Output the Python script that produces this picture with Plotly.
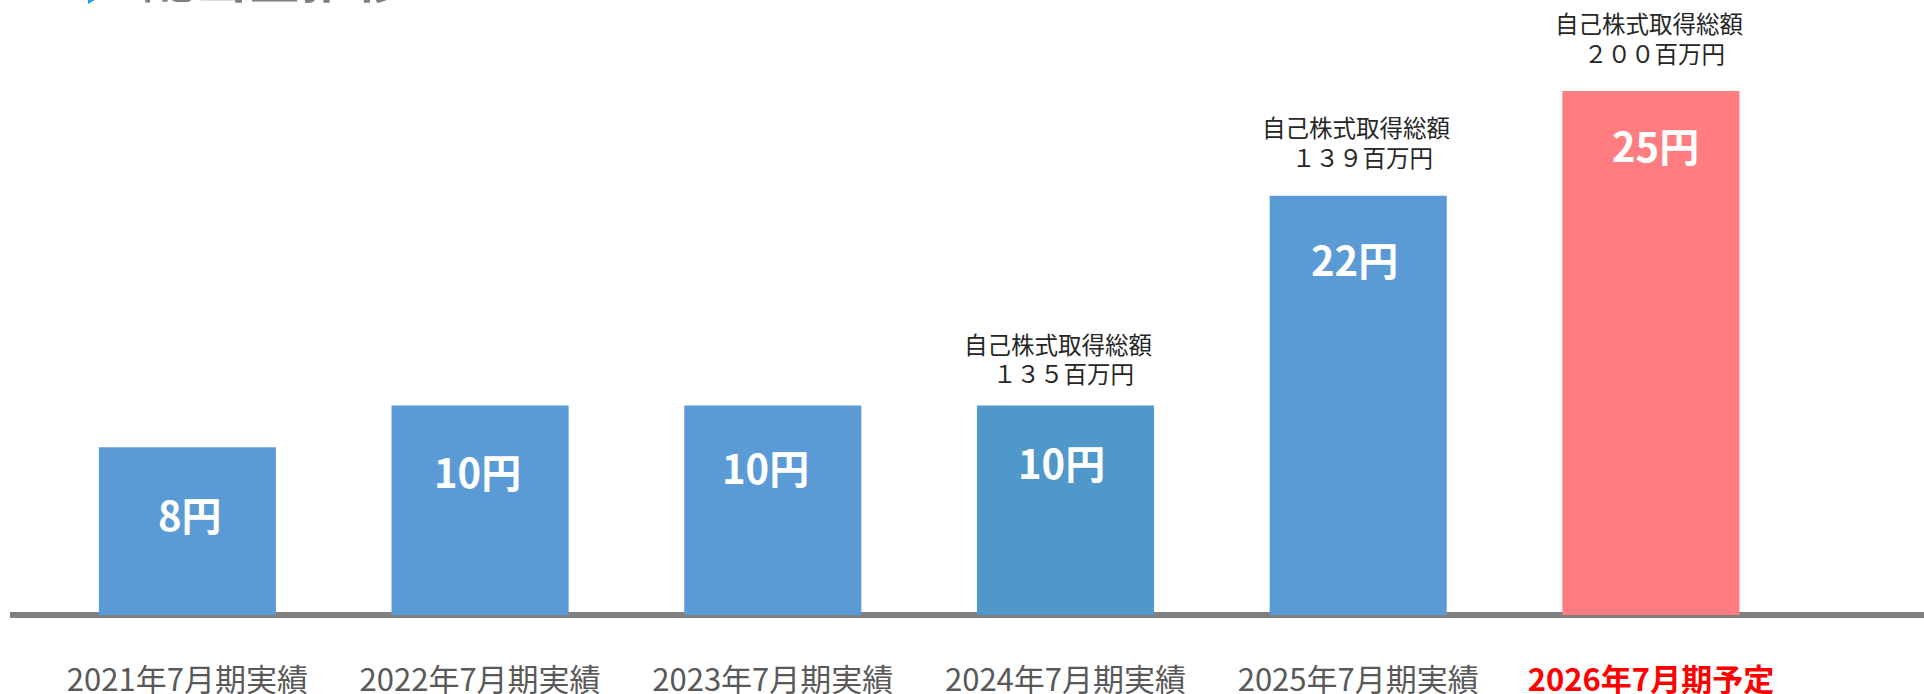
import plotly.graph_objects as go

# ---- data ----
categories = ["2021年7月期実績", "2022年7月期実績", "2023年7月期実績",
              "2024年7月期実績", "2025年7月期実績", "2026年7月期予定"]
bar_heights = [8, 10, 10, 10, 20, 25]          # bar heights as drawn in the picture
value_labels = ["8円", "10円", "10円", "10円", "22円", "25円"]
buyback_amounts = [None, None, None, "１３５", "１３９", "２００"]   # 百万円
buyback_title = "自己株式取得総額"
title_text = "配当金推移"

# ---- styles ----
bar_colors = ["#5B9BD5", "#5B9BD5", "#5B9BD5", "#4F98C9", "#5B9BD5", "#FF7C80"]
label_offsets = [67, 66, 62, 57, 63, 54]
label_xshifts = [3, -3, -7, -4, -4, 5]
buy_gap = [0, 0, 0, 32, 39, 38]     # px from bar top to centre of 2nd line
buy_xshift = [0, 0, 0, -8, -2, -2]
LINE_GAP = 29.9
LINE2_XSHIFT = 6
FONT = "Noto Sans CJK JP"

PX_PER_UNIT = 524 / 25.0
ymax = 615 / PX_PER_UNIT
ymin = -6 / PX_PER_UNIT

fig = go.Figure()
fig.add_trace(go.Bar(
    x=categories, y=bar_heights, marker=dict(color=bar_colors, line=dict(width=0)),
    hoverinfo="skip", showlegend=False,
))

ticktext = [c if i < len(categories) - 1 else
            f"<b><span style='color:#FF0000'>{c}</span></b>"
            for i, c in enumerate(categories)]

annotations = []
for i, (c, h, lab) in enumerate(zip(categories, bar_heights, value_labels)):
    annotations.append(dict(
        x=c, y=h, xref="x", yref="y", text=f"<b>{lab}</b>", showarrow=False,
        yanchor="middle", yshift=-label_offsets[i], xshift=label_xshifts[i],
        font=dict(family=FONT, size=40, color="#FFFFFF"),
    ))
    if buyback_amounts[i]:
        for txt, dy, dx in ((buyback_title, LINE_GAP, 0),
                            (f"{buyback_amounts[i]}百万円", 0, LINE2_XSHIFT)):
            annotations.append(dict(
                x=c, y=h, xref="x", yref="y", text=txt,
                showarrow=False, yanchor="middle", borderpad=0,
                yshift=buy_gap[i] + dy, xshift=buy_xshift[i] + dx,
                font=dict(family=FONT, size=23.5, color="#262626"),
            ))

annotations.append(dict(
    x=(140 - 10) / 1914, y=1, xref="paper", yref="paper", xanchor="left",
    yanchor="bottom", yshift=-15, text=f"<b>{title_text}</b>", showarrow=False,
    font=dict(family=FONT, size=53, color="#7F7F7F"),
))

fig.update_layout(
    width=1924, height=694,
    margin=dict(l=10, r=0, t=0, b=73),
    paper_bgcolor="white", plot_bgcolor="white",
    bargap=0.395,
    xaxis=dict(
        type="category", range=[-0.606, 5.933], tickvals=categories, ticktext=ticktext,
        showgrid=False, showline=False, zeroline=False, ticks="",
        ticklabelstandoff=38, automargin=False,
        tickfont=dict(family=FONT, size=31, color="#595959"),
    ),
    yaxis=dict(
        range=[ymin, ymax], showgrid=False, showticklabels=False, ticks="",
        automargin=False,
        zeroline=True, zerolinecolor="#808080", zerolinewidth=6, showline=False,
    ),
    annotations=annotations,
    shapes=[dict(
        type="path", xref="paper", yref="paper",
        path=f"M {(88-10)/1914},{1+22/621} L {(88-10)/1914},{1-4/621} L {(110-10)/1914},{1+9/621} Z",
        fillcolor="#1AA0E6", line=dict(width=0),
    )],
    font=dict(family=FONT),
)

fig.write_html("out.html", config={"displayModeBar": False},
               post_script="document.body.style.margin='0';")
